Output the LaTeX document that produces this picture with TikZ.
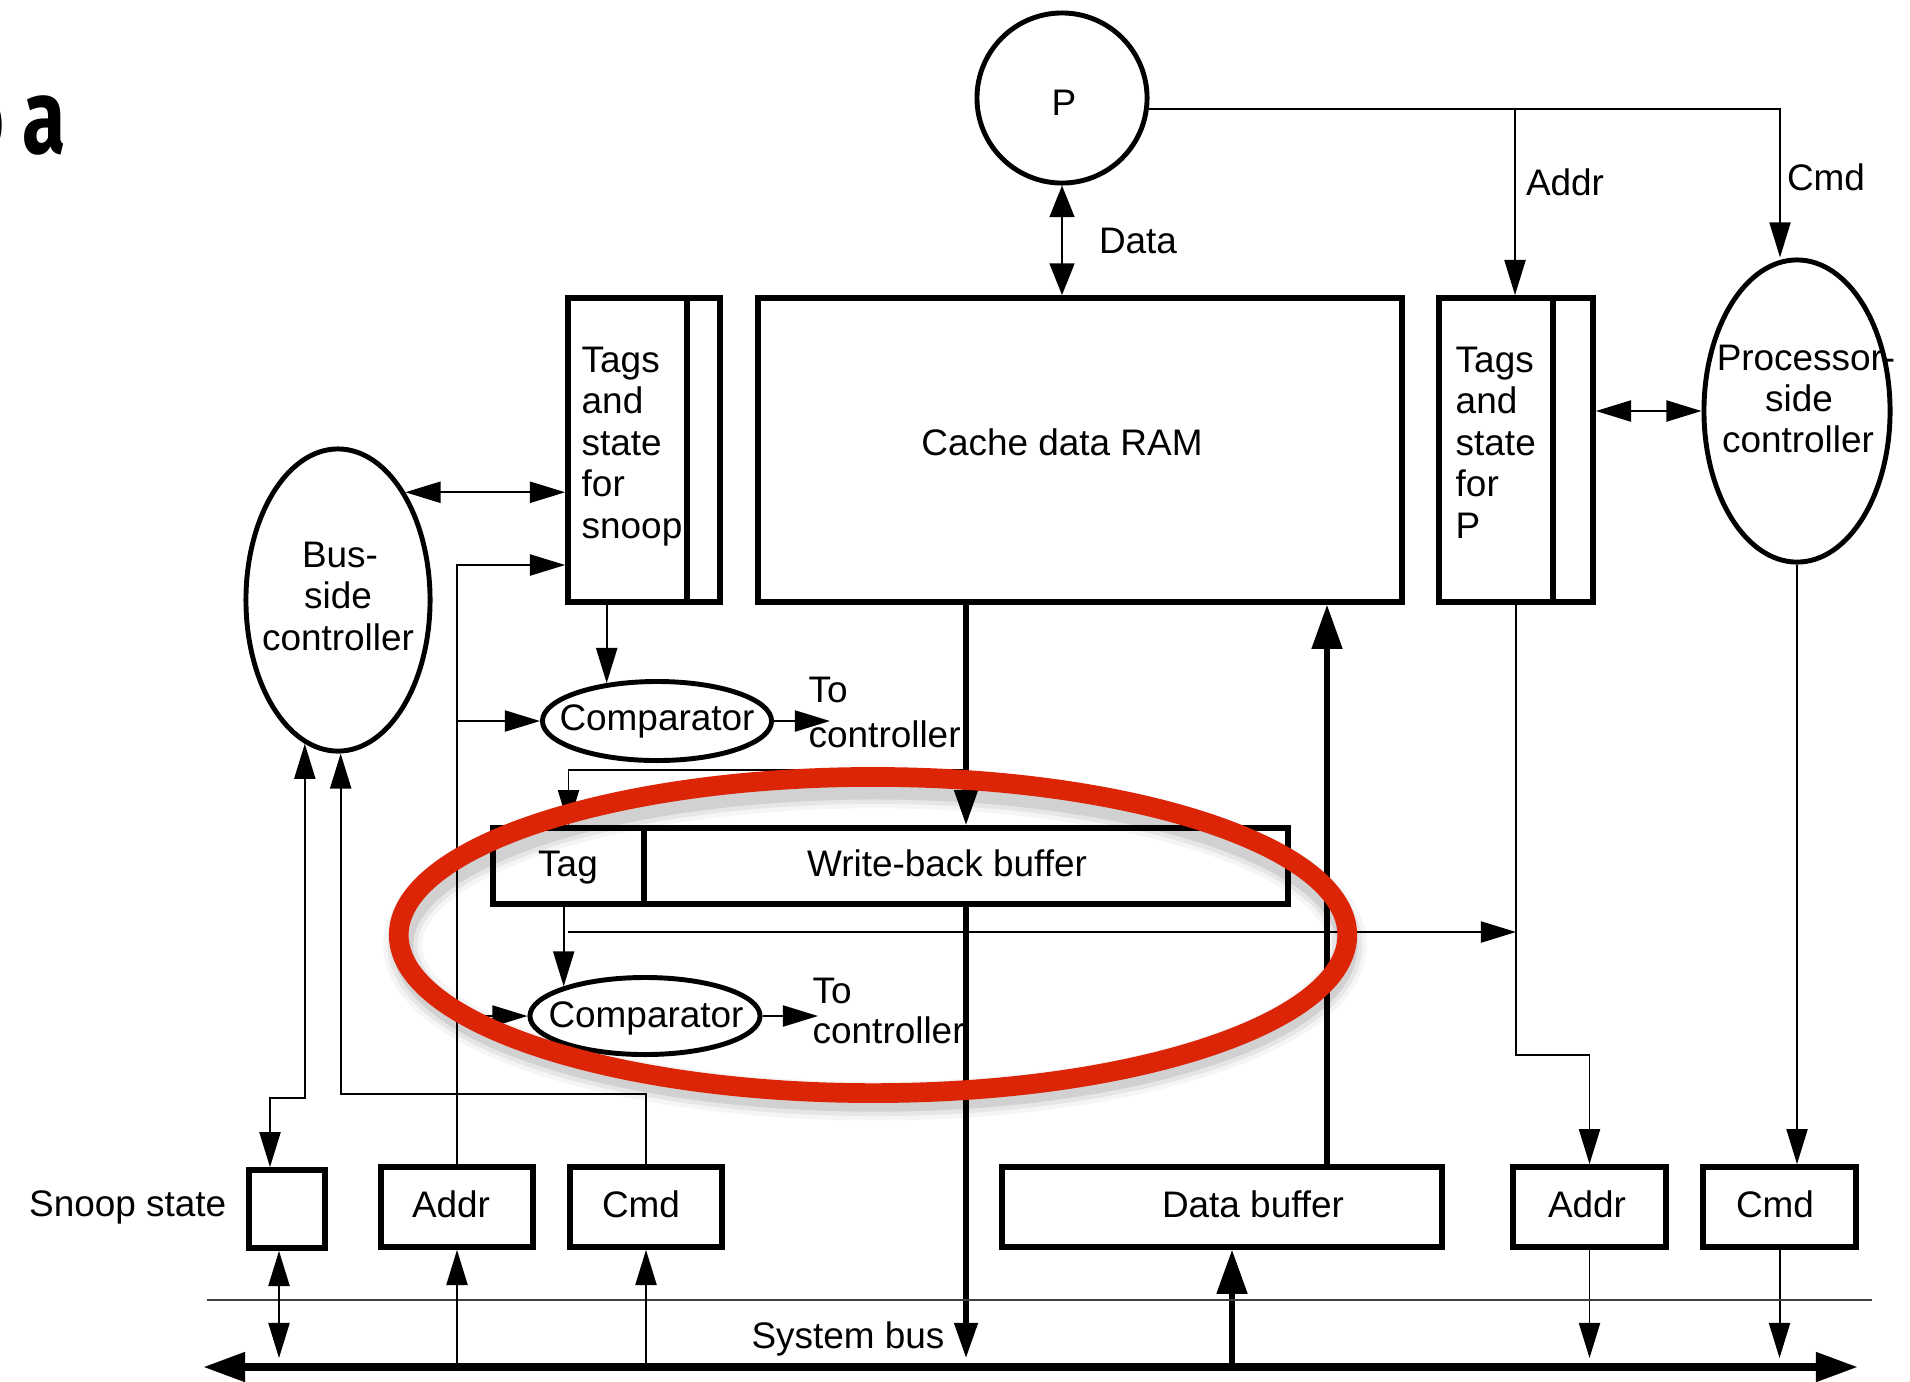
\documentclass[tikz,border=0pt]{standalone}
\usepackage{fontspec}
\setmainfont{Liberation Sans}
\newfontfamily\headfont{Fira Sans}
\usetikzlibrary{arrows.meta,shapes.geometric,calc}
\definecolor{ringred}{RGB}{220,36,6}
\begin{document}
\begin{tikzpicture}[x=0.01cm,y=-0.01cm,
  thinline/.style={line width=0.55pt},
  dataline/.style={line width=0.8pt},
  thickline/.style={line width=1.5pt},
  box/.style={draw, rectangle, line width=1.6pt, inner sep=0},
  oval/.style={draw, ellipse, line width=1.4pt, inner sep=0},
  lbl/.style={font=\fontsize{10.5pt}{12pt}\selectfont, inner sep=0, anchor=base},
  stip/.tip={Triangle[length=10pt,width=6pt]},
  dtip/.tip={Triangle[length=9pt,width=7pt]},
  mtip/.tip={Triangle[length=10pt,width=6.5pt]},
  btip/.tip={Triangle[length=12.5pt,width=8.5pt]},
  ctip/.tip={Triangle[length=12pt,width=8pt]}]

\fill[white] (0,0) rectangle (1910,1381);
\useasboundingbox (0,0) rectangle (1910,1381);

% heading fragment at the top left
\node[inner sep=0, anchor=base west, font=\headfont\bfseries\fontsize{30pt}{30pt}\selectfont] (hda) at (22,153) {\scalebox{0.75}[1]{a}};
\node[inner sep=0, anchor=base east, font=\headfont\bfseries\fontsize{30pt}{30pt}\selectfont] (hdo) at (5,153) {\scalebox{0.75}[1]{o}};

% processor and cache arrays
\node[draw, circle, line width=1.4pt, minimum size=1.70cm, inner sep=0] (P) at (1062,98) {};
\node[lbl] (Pt) at (1064,115) {P};
\node[box, minimum width=6.44cm, minimum height=3.04cm] (ram) at (1080,450) {};
\node[lbl] (ramt) at (1062,455) {Cache data RAM};
\node[box, minimum width=1.52cm, minimum height=3.04cm] (tsnoop) at (644,450) {};
\node[box, minimum width=1.54cm, minimum height=3.04cm] (tproc) at (1516,450) {};
\coordinate (tsd) at (687,0);
\coordinate (tpd) at (1553,0);
\draw[line width=1.6pt] (tsd |- tsnoop.north) -- (tsd |- tsnoop.south);
\draw[line width=1.6pt] (tpd |- tproc.north) -- (tpd |- tproc.south);
\foreach \t [count=\i] in {Tags,and,state,for,snoop}
  \node[lbl, anchor=base west] (ts\i) at (581,{372+41.5*(\i-1)}) {\t};
\foreach \t [count=\i] in {Tags,and,state,for,P}
  \node[lbl, anchor=base west] (tp\i) at (1455,{372+41.5*(\i-1)}) {\t};

% controllers
\node[oval, minimum width=1.86cm, minimum height=3.02cm] (pctrl) at (1797,411) {};
\node[lbl] (pc1) at (1806,370) {Processor-};
\node[lbl] (pc2) at (1799,411) {side};
\node[lbl] (pc3) at (1798,452) {controller};
\node[oval, minimum width=1.84cm, minimum height=3.02cm] (bctrl) at (338,600) {};
\node[lbl] (bc1) at (340,567) {Bus-};
\node[lbl] (bc2) at (338,608.5) {side};
\node[lbl] (bc3) at (338,650) {controller};

% comparators
\node[oval, minimum width=2.29cm, minimum height=0.79cm] (cmp1) at (657,721) {};
\node[lbl] (cmp1t) at (657,730) {Comparator};
\node[oval, minimum width=2.30cm, minimum height=0.77cm] (cmp2) at (645,1016) {};
\node[lbl] (cmp2t) at (646,1027) {Comparator};
\node[lbl, anchor=base west] (to1a) at (808,702) {To};
\node[lbl, anchor=base west] (to1b) at (808,747) {controller};
\node[lbl, anchor=base west] (to2a) at (812,1003) {To};
\node[lbl, anchor=base west] (to2b) at (812,1043) {controller};

% write-back buffer
\node[box, minimum width=1.51cm, minimum height=0.76cm] (tag) at (568.5,866) {};
\node[box, minimum width=6.44cm, minimum height=0.76cm] (wb) at (966,866) {};
\node[lbl] (tagt) at (568,876) {Tag};
\node[lbl] (wbt) at (947,876) {Write-back buffer};

% bus-side registers
\node[box, minimum width=0.76cm, minimum height=0.78cm] (snoop) at (287,1209) {};
\node[lbl, anchor=base east] (snoopt) at (227,1216) {Snoop state};
\node[box, minimum width=1.52cm, minimum height=0.80cm] (addrL) at (457,1207) {};
\node[lbl] (addrLt) at (451,1217) {Addr};
\node[box, minimum width=1.52cm, minimum height=0.80cm] (cmdL) at (646,1207) {};
\node[lbl] (cmdLt) at (641,1217) {Cmd};
\node[box, minimum width=4.40cm, minimum height=0.80cm] (dbuf) at (1222,1207) {};
\node[lbl] (dbuft) at (1253,1217) {Data buffer};
\node[box, minimum width=1.53cm, minimum height=0.80cm] (addrR) at (1589.5,1207) {};
\node[lbl] (addrRt) at (1587,1217) {Addr};
\node[box, minimum width=1.53cm, minimum height=0.80cm] (cmdR) at (1779.5,1207) {};
\node[lbl] (cmdRt) at (1775,1217) {Cmd};

% processor side wiring
\coordinate (pj) at (1515,108);
\coordinate (pc) at (1780,108);
\draw[thinline] (P.-7) -- (P.-7 -| pc);
\draw[thinline, -stip] (pj) -- (pj |- tproc.north);
\draw[thinline, -stip] (pc) -- (pc |- pctrl.north);
\node[lbl] (addrtop) at (1565,195) {Addr};
\node[lbl] (cmdtop) at (1826,190) {Cmd};
\draw[dataline, dtip-dtip] (P.south) -- (P.south |- ram.north);
\node[lbl] (datat) at (1138,253) {Data};
\draw[thinline, stip-stip] (tproc.east |- pctrl.west) -- (pctrl.west);

% snoop side wiring
\draw[thinline, stip-stip] (bctrl.58.7) -- (bctrl.58.7 -| tsnoop.west);
\coordinate (aj) at (457,565);
\draw[thinline, -stip] (addrL.north) -- (aj) -- (aj -| tsnoop.west);
\draw[thinline, -stip] (addrL.north |- cmp1.west) -- (cmp1.west);
\draw[thinline, -stip] (addrL.north |- cmp2.west) -- (cmp2.west);
\draw[thinline, -stip] (cmp1.143.9 |- tsnoop.south) -- (cmp1.143.9);
\coordinate (to1) at (830,721);
\coordinate (to2) at (818,1016);
\draw[thinline, -stip] (cmp1.east) -- (to1);
\draw[thinline, -stip] (cmp2.east) -- (to2);

% data paths
\coordinate (busstop) at (0,1358);
\draw[thickline, -mtip] (ram.south -| wb.north) -- (wb.north);
\coordinate (rj) at (966,770);
\draw[thinline, -stip] (rj) -| (tag.north);
\draw[thickline, -mtip] (wb.south) -- (wb.south |- busstop);
\draw[thinline, -stip] (cmp2.160.1 |- tag.south) -- (cmp2.160.1);
\coordinate (tj) at (568,932);
\draw[thinline, -stip] (tj) -- (tj -| tproc.south);
\coordinate (rstep) at (0,1055);
\draw[thinline, -stip] (tproc.south) -- (tproc.south |- rstep) -- (addrR.north |- rstep) -- (addrR.north);
\draw[thinline, -stip] (pctrl.south) -- (pctrl.south |- cmdR.north);
\draw[thinline, -stip] (addrR.south) -- (addrR.south |- busstop);
\draw[thinline, -stip] (cmdR.south) -- (cmdR.south |- busstop);
\coordinate (dbx) at (1327,0);
\draw[thickline, -btip] (dbx |- dbuf.north) -- (dbx |- ram.south);
\coordinate (dby) at (1232,1367);
\draw[thickline, -btip] (dby) -- (dby |- dbuf.south);

% system bus
\coordinate (busL) at (203,1367);
\coordinate (busR) at (1858,1367);
\coordinate (rail1) at (207,1300);
\coordinate (rail2) at (1872,1300);
\draw[line width=0.6pt, black!75] (rail1) -- (rail2);
\draw[line width=2.2pt, ctip-ctip] (busL) -- (busR);
\node[lbl] (bust) at (848,1348) {System bus};

% bus-side register wiring
\coordinate (sx) at (279,0);
\draw[thinline, stip-stip] (sx |- snoop.south) -- (sx |- busstop);
\coordinate (sj) at (270,1098);
\draw[thinline, stip-stip] (bctrl.257.7) -- (bctrl.257.7 |- sj) -- (sj) -- (sj |- snoop.north);
\coordinate (cj) at (0,1094);
\draw[thinline, -stip] (cmdL.north) -- (cmdL.north |- cj) -- (bctrl.271.5 |- cj) -- (bctrl.271.5);
\draw[thinline, -stip] (addrL.south |- busL) -- (addrL.south);
\draw[thinline, -stip] (cmdL.south |- busL) -- (cmdL.south);

% highlight ring with a soft shadow cast downwards
\foreach \w/\o in {11pt/0.04,8.5pt/0.06,6pt/0.09}
  \draw[line width=\w, black, opacity=\o] (875,945) ellipse [x radius=4.72cm, y radius=1.56cm];
\draw[line width=5.6pt, ringred] (873,935) ellipse [x radius=4.74cm, y radius=1.58cm];
\end{tikzpicture}
\end{document}
